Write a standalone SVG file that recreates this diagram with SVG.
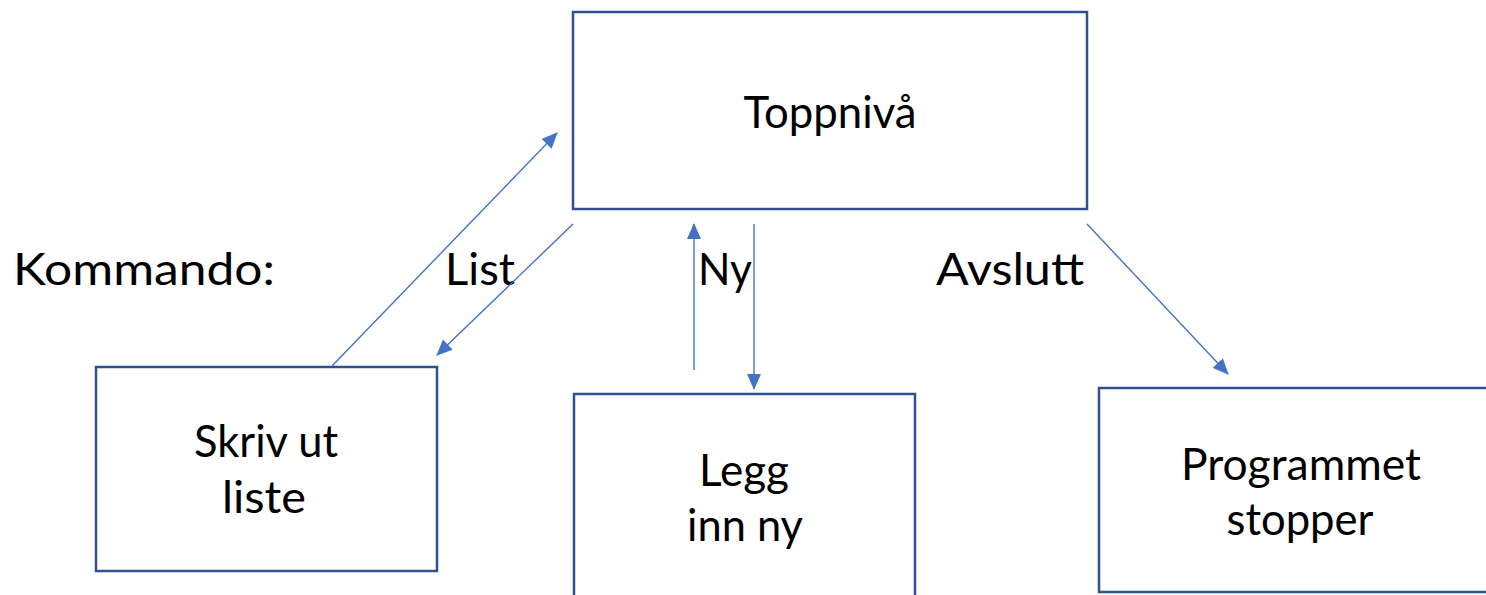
<svg xmlns="http://www.w3.org/2000/svg" width="1486" height="595" viewBox="0 0 1486 595">
<style>
.box{fill:#fff;stroke:#2F528F;stroke-width:2.5}
.t{font-family:Lato,"Open Sans","Liberation Sans",sans-serif;fill:#000;font-size:44px}
.c{text-anchor:middle}
.con{stroke:#4472C4;stroke-width:1.4;fill:none;marker-end:url(#ah)}
</style>
<defs>
<marker id="ah" markerUnits="userSpaceOnUse" markerWidth="16" markerHeight="14" refX="15" refY="7" orient="auto">
<path d="M0,0 L16,7 L0,14 Z" fill="#4472C4"/>
</marker>
</defs>
<rect width="1486" height="595" fill="#fff"/>
<g id="toppniva">
<rect class="box" x="573" y="12" width="514" height="197"/>
<text class="t c" x="830" y="128" textLength="173" lengthAdjust="spacingAndGlyphs">Toppnivå</text>
</g>
<g id="skriv">
<rect class="box" x="96" y="367" width="341" height="204"/>
<text class="t c" x="266" y="457" textLength="144" lengthAdjust="spacingAndGlyphs">Skriv ut</text>
<text class="t c" x="264" y="513" textLength="84" lengthAdjust="spacingAndGlyphs">liste</text>
</g>
<g id="legg">
<rect class="box" x="574" y="394" width="341" height="210"/>
<text class="t c" x="744" y="486" textLength="90" lengthAdjust="spacingAndGlyphs">Legg</text>
<text class="t c" x="745" y="541" textLength="116" lengthAdjust="spacingAndGlyphs">inn ny</text>
</g>
<g id="stopper">
<rect class="box" x="1099" y="388" width="400" height="204"/>
<text class="t c" x="1301" y="480" textLength="240" lengthAdjust="spacingAndGlyphs">Programmet</text>
<text class="t c" x="1300" y="535" textLength="147" lengthAdjust="spacingAndGlyphs">stopper</text>
</g>
<g id="labels">
<text class="t" x="13" y="285" textLength="262" lengthAdjust="spacingAndGlyphs">Kommando:</text>
<text class="t" x="445" y="285" textLength="70" lengthAdjust="spacingAndGlyphs">List</text>
<text class="t" x="698" y="285" textLength="54" lengthAdjust="spacingAndGlyphs">Ny</text>
<text class="t" x="936" y="285" textLength="148" lengthAdjust="spacingAndGlyphs">Avslutt</text>
</g>
<g id="connectors">
<line class="con" x1="332" y1="366" x2="557" y2="133"/>
<line class="con" x1="573" y1="224" x2="437" y2="355"/>
<line class="con" x1="694" y1="370" x2="694" y2="224"/>
<line class="con" x1="754" y1="224" x2="754" y2="389"/>
<line class="con" x1="1087" y1="224" x2="1228" y2="374"/>
</g>
</svg>
